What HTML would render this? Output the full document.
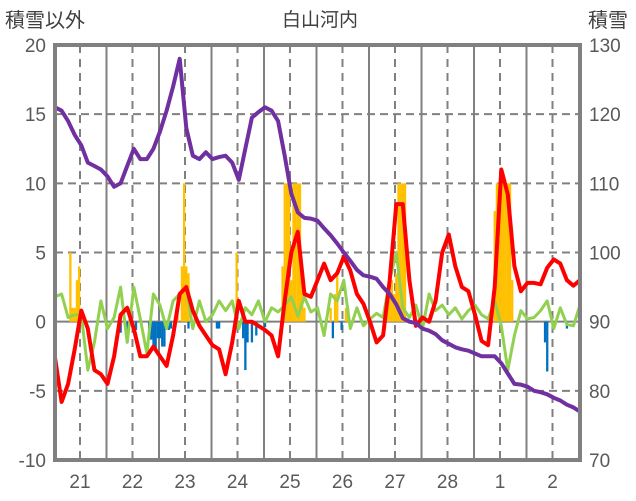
<!DOCTYPE html>
<html><head><meta charset="utf-8"><style>
html,body{margin:0;padding:0;background:#fff;}
svg{display:block;font-family:"Liberation Sans","Noto Sans CJK JP",sans-serif;}
</style></head><body>
<svg id="chart" width="636" height="501" viewBox="0 0 636 501">
<text x="320" y="26" font-size="19" fill="#404040" text-anchor="middle" font-family="'Noto Sans CJK JP',sans-serif">白山河内</text>
<text x="5" y="27" font-size="20" fill="#404040" font-family="'Noto Sans CJK JP',sans-serif">積雪以外</text>
<text x="588" y="27" font-size="20" fill="#404040" font-family="'Noto Sans CJK JP',sans-serif">積雪</text>
<g id="grid"></g>
<g id="bars"></g>
<g id="lines"></g>
<rect x="55" y="45" width="525" height="415" fill="none" stroke="#808080" stroke-width="4"/>
<g id="axes"></g>
</svg>
<script>
const leftTicks=[20,15,10,5,0,-5,-10];
const rightTicks=[130,120,110,100,90,80,70];
const dayLabels=["21","22","23","24","25","26","27","28","1","2"];
const sampleStepHours=3;
const redTemp=[-2.6,-5.8,-4.5,-2,0.8,-0.5,-3.5,-3.8,-4.5,-2.5,0.5,1,-0.5,-2.5,-2.5,-1.8,-2.5,-3.2,-1,2,2.5,0.8,-0.3,-1,-1.7,-2,-3.8,-1.5,1.5,0,0,-0.3,-0.6,-1,-2.5,1.5,5,6.5,2,1.8,3,4.2,3,3.5,4.7,3.7,2,1.3,0,-1.5,-1,3,8.5,8.5,3,-0.3,0.3,0,1.5,5,6.3,4,2.5,2.2,0.5,-1.4,-1.7,2.5,11,9.2,4,2.2,2.8,2.8,2.7,3.9,4.5,4.2,3,2.6,3];
const greenSeries=[1.8,2,0.3,0.5,0.5,-3.5,-1.5,1.5,-0.5,0.3,2.5,-1.5,2.5,0.2,-2.3,2,1.2,-0.5,1.5,2,2.5,-0.5,1.5,0,0.5,1.5,0.8,1.5,-0.5,1,0.5,1.5,0,1,0.7,1.2,1.8,0.4,1.8,0.7,1,-1,2,1.5,3,-0.5,1,-0.3,0.2,0.6,0.3,3,5,1,0.3,1.2,-0.5,2,0.8,1.2,0.5,1,0.2,0.8,1.2,0.5,0.2,1.5,-0.3,-3.5,-1,0.8,0.2,0.3,0.8,1.5,-0.5,1,-0.2,-0.3,1.2];
const snowDepth=[121,120.5,119,117,115.5,113,112.5,112,111,109.5,110,112.5,115,113.5,113.5,115,117.5,120.5,124,128,118,114,113.5,114.5,113.5,113.8,114,113,110.5,115,119.5,120.3,121,120.5,119,114,108.5,105.8,105,104.9,104.6,103.5,102.5,101.3,100,98.8,97.5,96.7,96.5,96.2,95,94,92.5,90.5,90,89.8,89,88.7,88.2,87.3,86.8,86.3,86,85.8,85.4,85,85,85,84,82.5,81,80.9,80.6,80,79.8,79.5,79,78.6,78,77.6,77];
const snowfallHour=[7,8,9,10,11,56,58,59,60,61,83,104,105,106,107,108,109,110,111,112,113,114,126,128,129,133,134,152,153,154,155,156,157,158,159,160,201,202,203,204,205,206,207,208,209];
const snowfallVal=[5,1,1,3,4,1,4,10,4,3.5,5,4,10,10,10,3,10,10,10,10,3,1,1,2,3.5,1,1,1.5,2,3,2,3.5,10,10,10,10,8,10,10,10,10,10,10,10,3];
const meltHour=[30,33,37,43,44,45,46,47,48,49,50,52,53,61,74,75,86,87,88,90,92,96,127,131,224,225,234];
const meltVal=[-0.8,-0.6,-0.6,-1.3,-1.3,-2,-2,-1.2,-1.2,-1.8,-1.8,-0.6,-0.5,-0.5,-0.5,-0.5,-1.2,-3.5,-1.5,-1.5,-1,-0.4,-1.2,-0.6,-1.5,-3.6,-0.5];

const NS='http://www.w3.org/2000/svg';
const X0=55,X1=580,Y0=45,Y1=460,HOUR_PX=52.5/24;
function xh(h){return X0+h*HOUR_PX;}
function yl(v){return Y0+(20-v)*(Y1-Y0)/30;}
function yr(v){return Y0+(130-v)*(Y1-Y0)/60;}
function mk(tag,attrs,parent){const e=document.createElementNS(NS,tag);for(const k in attrs)e.setAttribute(k,attrs[k]);parent.appendChild(e);return e;}
const grid=document.getElementById('grid'),bars=document.getElementById('bars'),lines=document.getElementById('lines'),axes=document.getElementById('axes');

leftTicks.forEach(v=>{
  if(v!==20&&v!==-10){
    const l=mk('line',{x1:X0,x2:X1,y1:yl(v),y2:yl(v),stroke:'#808080','stroke-width':2,'stroke-dasharray':v===0?'none':'8,5'},grid);
    
    
  }
  const t=mk('text',{x:46,y:yl(v)+7,'font-size':19,fill:'#595959','text-anchor':'end'},axes);
  t.textContent=v;
  
  
});
rightTicks.forEach(v=>{
  const t=mk('text',{x:589,y:yr(v)+7,'font-size':19,fill:'#595959'},axes);
  t.textContent=v;
  
  
});
dayLabels.forEach((d,k)=>{
  const cx=80+52.5*k;
  const l=mk('line',{x1:cx,x2:cx,y1:Y0,y2:Y1,stroke:'#808080','stroke-width':2,'stroke-dasharray':'8,6'},grid);
  
  
  if(k<dayLabels.length-1){
    const s=mk('line',{x1:cx+26.5,x2:cx+26.5,y1:Y0,y2:Y1,stroke:'#808080','stroke-width':2},grid);
    
    
  }
  const t=mk('text',{x:cx,y:488,'font-size':19,fill:'#595959','text-anchor':'middle'},axes);
  t.textContent=d;
  
  
});
snowfallHour.forEach((h,i)=>{
  const v=snowfallVal[i];
  const r=mk('rect',{x:xh(h)-1.1,y:yl(v),width:2.3,height:yl(0)-yl(v),fill:'#FFC000'},bars);
  
  
});
meltHour.forEach((h,i)=>{
  const v=meltVal[i];
  const r=mk('rect',{x:xh(h)-1.1,y:yl(0),width:2.3,height:yl(v)-yl(0),fill:'#0070C0'},bars);
  
  
});
function path(arr,yf,color,w,name){
  const d=arr.map((v,i)=>(i?'L':'M')+xh(i*sampleStepHours).toFixed(1)+','+yf(v).toFixed(1)).join('');
  const p=mk('path',{d:d,fill:'none',stroke:color,'stroke-width':w,'stroke-linejoin':'round'},lines);
  
  
}
path(greenSeries,yl,'#92D050',3,'green-series-line');
path(redTemp,yl,'#FF0000',4,'temperature-line');
path(snowDepth,yr,'#7030A0',4,'snow-depth-line');
</script>
</body></html>
